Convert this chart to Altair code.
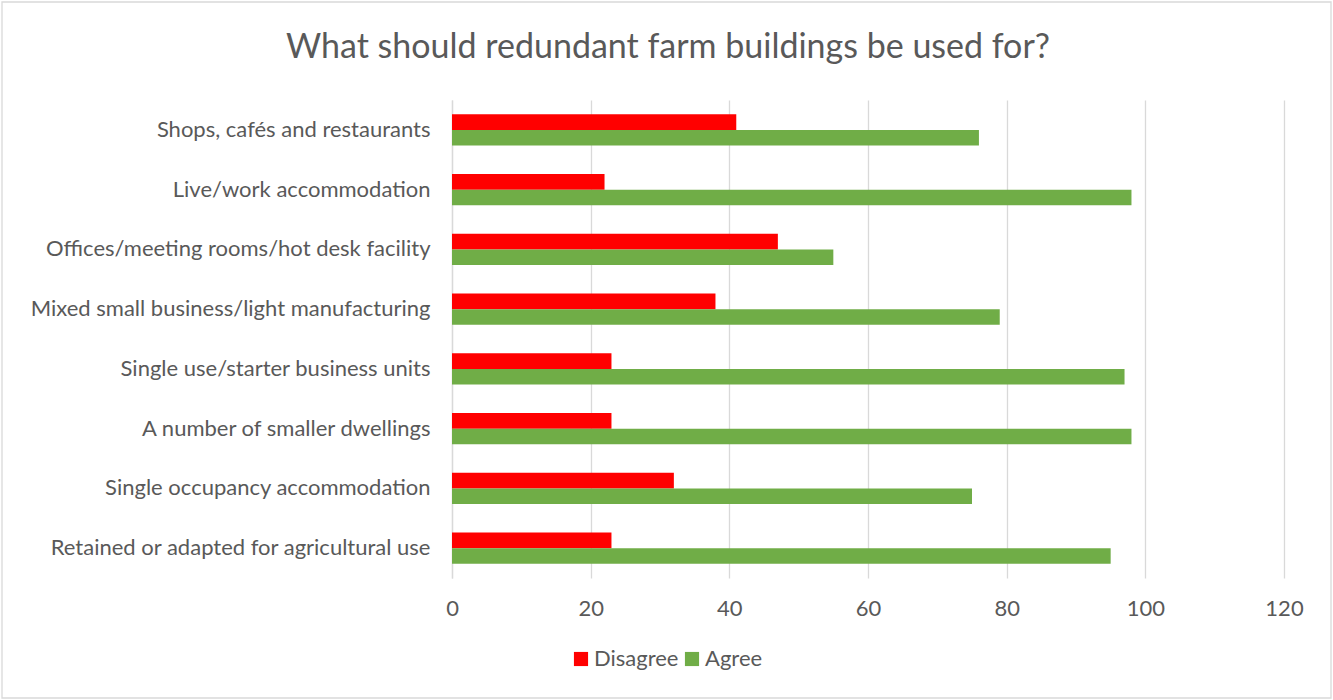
import altair as alt
import pandas as pd

title_text = "What should redundant farm buildings be used for?"
categories = [
    "Shops, cafés and restaurants",
    "Live/work accommodation",
    "Offices/meeting rooms/hot desk facility",
    "Mixed small business/light manufacturing",
    "Single use/starter business units",
    "A number of smaller dwellings",
    "Single occupancy accommodation",
    "Retained or adapted for agricultural use",
]
disagree = [41, 22, 47, 38, 23, 23, 32, 23]
agree = [76, 98, 55, 79, 97, 98, 75, 95]
series = ["Disagree", "Agree"]
colors = ["#FF0000", "#70AD47"]
x_ticks = [0, 20, 40, 60, 80, 100, 120]

rows = []
for c, d, a in zip(categories, disagree, agree):
    rows.append({"cat": c, "series": "Disagree", "value": d})
    rows.append({"cat": c, "series": "Agree", "value": a})
df = pd.DataFrame(rows)

FONT = "Lato"
GREY = "#595959"
FS = 22

bars = alt.Chart(df).mark_bar().encode(
    y=alt.Y("cat:N", sort=categories,
            scale=alt.Scale(paddingInner=0.48, paddingOuter=0.24),
            axis=alt.Axis(title=None, labelFont=FONT, labelFontSize=FS, labelColor=GREY,
                          ticks=False, labelPadding=22, domain=True, domainColor="#d9d9d9",
                          domainWidth=1.3, labelLimit=600)),
    yOffset=alt.YOffset("series:N", sort=series),
    x=alt.X("value:Q", scale=alt.Scale(domain=[0, 120], nice=False),
            axis=alt.Axis(title=None, values=x_ticks, labelFont=FONT, labelFontSize=FS,
                          labelColor=GREY, ticks=False, domain=False, labelPadding=20,
                          labelFlush=False, gridColor="#d9d9d9", gridWidth=1.3)),
    color=alt.Color("series:N", sort=series,
                    scale=alt.Scale(domain=series, range=colors),
                    legend=alt.Legend(title=None, orient="none", direction="horizontal",
                                      legendX=118, legendY=548, symbolType="square",
                                      symbolSize=200, symbolStrokeWidth=0,
                                      labelFont=FONT, labelFontSize=FS, labelColor=GREY,
                                      columnPadding=2, labelOffset=2)),
)

frame = alt.Chart(pd.DataFrame({"k": [0]})).mark_rect(
    fill=None, stroke="#d9d9d9", strokeWidth=1.3
).encode(
    x=alt.value(-450), x2=alt.value(879), y=alt.value(-98), y2=alt.value(598)
)

title = alt.Chart(pd.DataFrame({"t": [title_text]})).mark_text(
    font=FONT, fontSize=34, color=GREY, align="center", baseline="middle"
).encode(
    text="t:N", x=alt.value(216), y=alt.value(-52)
)

chart = alt.layer(frame, bars, title).properties(
    width=832, height=478,
    autosize=alt.AutoSizeParams(type="none"),
    padding={"left": 452, "top": 100, "right": 49, "bottom": 122},
).configure(background="white").configure_view(strokeWidth=0, stroke=None)

chart.save("out.html", embed_options={"renderer": "svg", "actions": False})
